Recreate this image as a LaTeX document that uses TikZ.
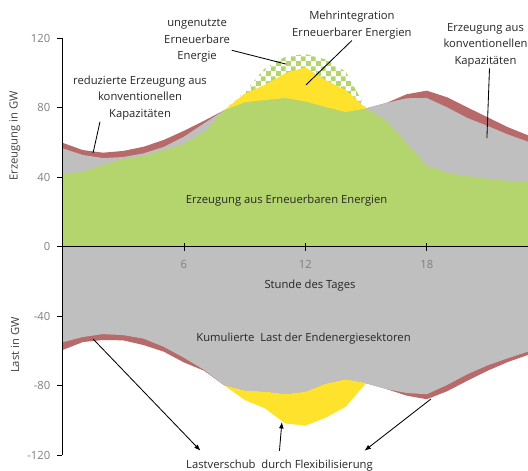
\documentclass[tikz,border=0pt]{standalone}
\usepackage{fontspec}
\setmainfont{Open Sans}
\usepackage{xcolor}
\usepackage{tikz}
\usetikzlibrary{arrows.meta,patterns}
\definecolor{cGreen}{HTML}{B4D56E}
\definecolor{cGray}{HTML}{BFBFBF}
\definecolor{cYellow}{HTML}{FFE22B}
\definecolor{cRed}{HTML}{B86A6A}
\definecolor{cText}{HTML}{262626}
\definecolor{cTick}{HTML}{7F7F7F}
\definecolor{cTitle}{HTML}{404040}
\pgfdeclarepatternformonly{bigchecker}{\pgfpointorigin}{\pgfqpoint{7pt}{7pt}}{\pgfqpoint{7pt}{7pt}}{%
  \pgfpathrectangle{\pgfpointorigin}{\pgfqpoint{3.5pt}{3.5pt}}%
  \pgfpathrectangle{\pgfqpoint{3.5pt}{3.5pt}}{\pgfqpoint{3.5pt}{3.5pt}}%
  \pgfusepath{fill}}
\tikzset{
  lbl/.style     ={font=\fontsize{8}{11.7}\selectfont, text=cText, align=center, inner sep=1pt},
  ticklbl/.style ={font=\fontsize{8}{10}\selectfont, text=cTick, inner sep=0pt},
  axtitle/.style ={font=\fontsize{8}{10}\selectfont, text=cTitle, rotate=90, inner sep=0pt},
  axisline/.style={draw=black, line width=0.6pt},
  leader/.style  ={draw=black, line width=0.6pt},
  arrow/.style   ={-{Latex[length=1.6mm]}, line width=0.6pt, draw=black},
}

\begin{document}
\begin{tikzpicture}[x=0.506cm, y=0.04344cm]
  \useasboundingbox (-3.088,-128.63) rectangle (23,141.87);
  % Erzeugung
  \fill[cRed] (0,0) -- plot coordinates {(0,59.7) (1,55.5) (2,54) (3,55) (4,57.4) (5,61.3) (6,66.6) (7,72.4) (8,78.5) (9,83) (10,84.3) (11,85.5) (12,83.5) (13,80.3) (14,77.4) (15,79.5) (16,82.6) (17,87.6) (18,89.7) (19,85.9) (20,80.1) (21,74.4) (22,68.7) (23,64)} -- (23,0) -- cycle;
  \fill[cGray] (0,0) -- plot coordinates {(0,56.5) (1,52.7) (2,50.9) (3,51.5) (4,53.6) (5,57.3) (6,63.2) (7,70.9) (8,78.5) (9,83) (10,84.3) (11,85.5) (12,83.5) (13,80.3) (14,77.4) (15,79.5) (16,82.6) (17,85.3) (18,85.5) (19,80.1) (20,74) (21,69.4) (22,64.5) (23,60.3)} -- (23,0) -- cycle;
  \fill[cGreen] (0,0) -- plot coordinates {(0,41.7) (1,43) (2,47) (3,50.4) (4,52.1) (5,55.5) (6,59) (7,66) (8,78.5) (9,83) (10,84.3) (11,85.5) (12,83.5) (13,80.3) (14,77.4) (15,79.5) (16,72.5) (17,59.5) (18,46.5) (19,42.5) (20,40.5) (21,39) (22,37.8) (23,37.1)} -- (23,0) -- cycle;
  \fill[pattern=bigchecker, pattern color=cGreen] plot coordinates {(8,78.5) (9,89) (10,102.5) (11,109.2) (12,110.8) (13,107.7) (14,100.6) (15,79.5)} -- plot coordinates {(14,77.4) (13,80.3) (12,83.5) (11,85.5) (10,84.3) (9,83)} -- cycle;
  \fill[cYellow] plot coordinates {(8,78.5) (9,88) (10,93) (11,99.7) (12,103.1) (13,95.8) (14,90) (15,79.5)} -- plot coordinates {(14,77.4) (13,80.3) (12,83.5) (11,85.5) (10,84.3) (9,83)} -- cycle;
  % Last
  \fill[cRed] (0,0) -- plot coordinates {(0,-59.6) (1,-55) (2,-53.8) (3,-54) (4,-56.7) (5,-60.5) (6,-66.7) (7,-71.5) (8,-80) (9,-83) (10,-83.6) (11,-85) (12,-83.7) (13,-79.1) (14,-76.5) (15,-78.7) (16,-82) (17,-85.8) (18,-87.9) (19,-83.3) (20,-77.3) (21,-71.5) (22,-66.5) (23,-62.4)} -- (23,0) -- cycle;
  \fill[cGray] (0,0) -- plot coordinates {(0,-55.1) (1,-52.1) (2,-50.4) (3,-51) (4,-53) (5,-57.7) (6,-64) (7,-71) (8,-80) (9,-83) (10,-83.6) (11,-85) (12,-83.7) (13,-79.1) (14,-76.5) (15,-78.7) (16,-82) (17,-84.3) (18,-85) (19,-79.7) (20,-73.5) (21,-68.4) (22,-64.3) (23,-60.5)} -- (23,0) -- cycle;
  \fill[cYellow] plot coordinates {(8,-80) (9,-88.3) (10,-93.1) (11,-101.8) (12,-103.1) (13,-98.5) (14,-92.2) (15,-78.7)} -- plot coordinates {(14,-76.5) (13,-79.1) (12,-83.7) (11,-85) (10,-83.6) (9,-83)} -- cycle;
  % Achsen
  \draw[axisline] (0,-120) -- (0,120);
  \draw[axisline] (0,0) -- (23,0);
  \foreach \v in {-120,-80,-40,0,40,80,120} {
    \draw[axisline] (-0.25,\v) -- (0,\v);
    \node[ticklbl, anchor=east] (ytick\v) at (-0.59,\v) {\v};
  }
  \foreach \h in {6,12,18} {
    \draw[axisline] (\h,-2.3) -- (\h,2.3);
    \node[ticklbl] (xtick\h) at (\h,-10.1) {\h};
  }
  \node[axtitle] (titleGen) at (-2.35,63.6) {Erzeugung in GW};
  \node[axtitle] (titleLoad) at (-2.35,-56.7) {Last in GW};
  \node[lbl] (lblHour) at (12.23,-22.7) {Stunde des Tages};
  % Beschriftungen
  \node[lbl] (lblEE) at (11.07,26.2) {Erzeugung aus Erneuerbaren Energien};
  \node[lbl] (lblLoad) at (11.91,-52.7) {Kumulierte\ \ Last der Endenergiesektoren};
  \node[lbl] (lblUnused) at (6.65,118.3) {ungenutzte\\Erneuerbare\\Energie};
  \node[lbl] (lblMore) at (14.30,127.5) {Mehrintegration\\Erneuerbarer Energien};
  \node[lbl] (lblConvR) at (20.9,116) {Erzeugung aus\\konventionellen\\Kapazitäten};
  \node[lbl] (lblConvL) at (3.83,85.5) {reduzierte Erzeugung aus\\konventionellen\\Kapazitäten};
  \node[lbl, inner ysep=6pt] (lblShift) at (10.72,-125.8) {Lastverschub\ \ durch Flexibilisierung};
  \coordinate (cUnused) at (11.04,105);
  \coordinate (cMore) at (12.03,93);
  \coordinate (cConvR) at (20.97,62.4);
  \coordinate (cConvL) at (1.51,53.8);
  \coordinate (cShiftL) at (1.51,-53.2);
  \coordinate (cShiftM) at (10.84,-101);
  \coordinate (cShiftR) at (18.2,-87.8);
  \draw[leader] (lblUnused.-15) -- (cUnused);
  \draw[leader] (lblMore.south) -- (cMore);
  \draw[leader] ([xshift=0.1cm]lblConvR.south) -- (cConvR);
  \draw[leader] ([xshift=-1cm]lblConvL.south) -- (cConvL);
  \draw[arrow] (cShiftL) -- ([xshift=0.4cm]lblShift.north west);
  \draw[arrow] (lblShift.north) -- (cShiftM);
  \draw[arrow] (cShiftR) -- ([xshift=-0.25cm]lblShift.north east);
\end{tikzpicture}
\end{document}
